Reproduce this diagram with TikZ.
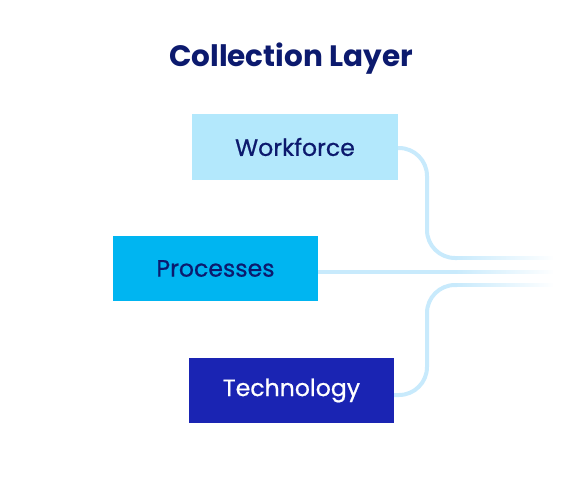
\documentclass[tikz,border=0pt]{standalone}
\usepackage{fontspec}
\setmainfont{Poppins}
\newfontfamily\pmed{Poppins}[RawFeature={embolden=0.7}]
\usetikzlibrary{fadings}
\definecolor{navy}{HTML}{0C1A6E}
\definecolor{wfblue}{HTML}{B3E8FC}
\definecolor{prblue}{HTML}{00B5F1}
\definecolor{tcblue}{HTML}{1A24B3}
\definecolor{lineblue}{HTML}{C8EAFC}
\tikzfading[name=fadeout, left color=transparent!0, right color=transparent!100]
\tikzset{
  box/.style={rectangle, minimum width=205pt, minimum height=65pt, inner sep=0pt, font=\pmed\fontsize{23.6}{26}\selectfont},
  conn/.style={draw=lineblue, line width=4pt, rounded corners=28pt},
  fadeconn/.style={draw=lineblue, line width=4pt, path fading=fadeout},
}
\begin{document}
\begin{tikzpicture}[x=1pt,y=-1pt]
\useasboundingbox (0,0) rectangle (587,480);
\node[font=\fontsize{29.5}{32}\bfseries\selectfont, text=navy] (title) at (291,59) {Collection Layer};
\node[box, fill=wfblue, text=navy, minimum width=206pt, minimum height=66pt] (wf) at (295,147) {Workforce};
\node[box, fill=prblue, text=navy] (pr) at (215.5,268.5) {Processes};
\node[box, fill=tcblue, text=white] (tc) at (291.5,390.5) {Technology};
\coordinate (w1) at (457,258);
\coordinate (w2) at (553,258);
\coordinate (p1) at (457,272);
\coordinate (p2) at (553,272);
\coordinate (t1) at (457,285);
\coordinate (t2) at (553,285);
\draw[conn] ([yshift=-1pt]wf.east) -- (427,148) -- (427,258) -- (w1);
\draw[fadeconn] (w1) -- (w2);
\draw[conn] ([yshift=-3.5pt]pr.east) -- (p1);
\draw[fadeconn] (p1) -- (p2);
\draw[conn] ([yshift=-4.5pt]tc.east) -- (427,395) -- (427,285) -- (t1);
\draw[fadeconn] (t1) -- (t2);
\end{tikzpicture}
\end{document}
